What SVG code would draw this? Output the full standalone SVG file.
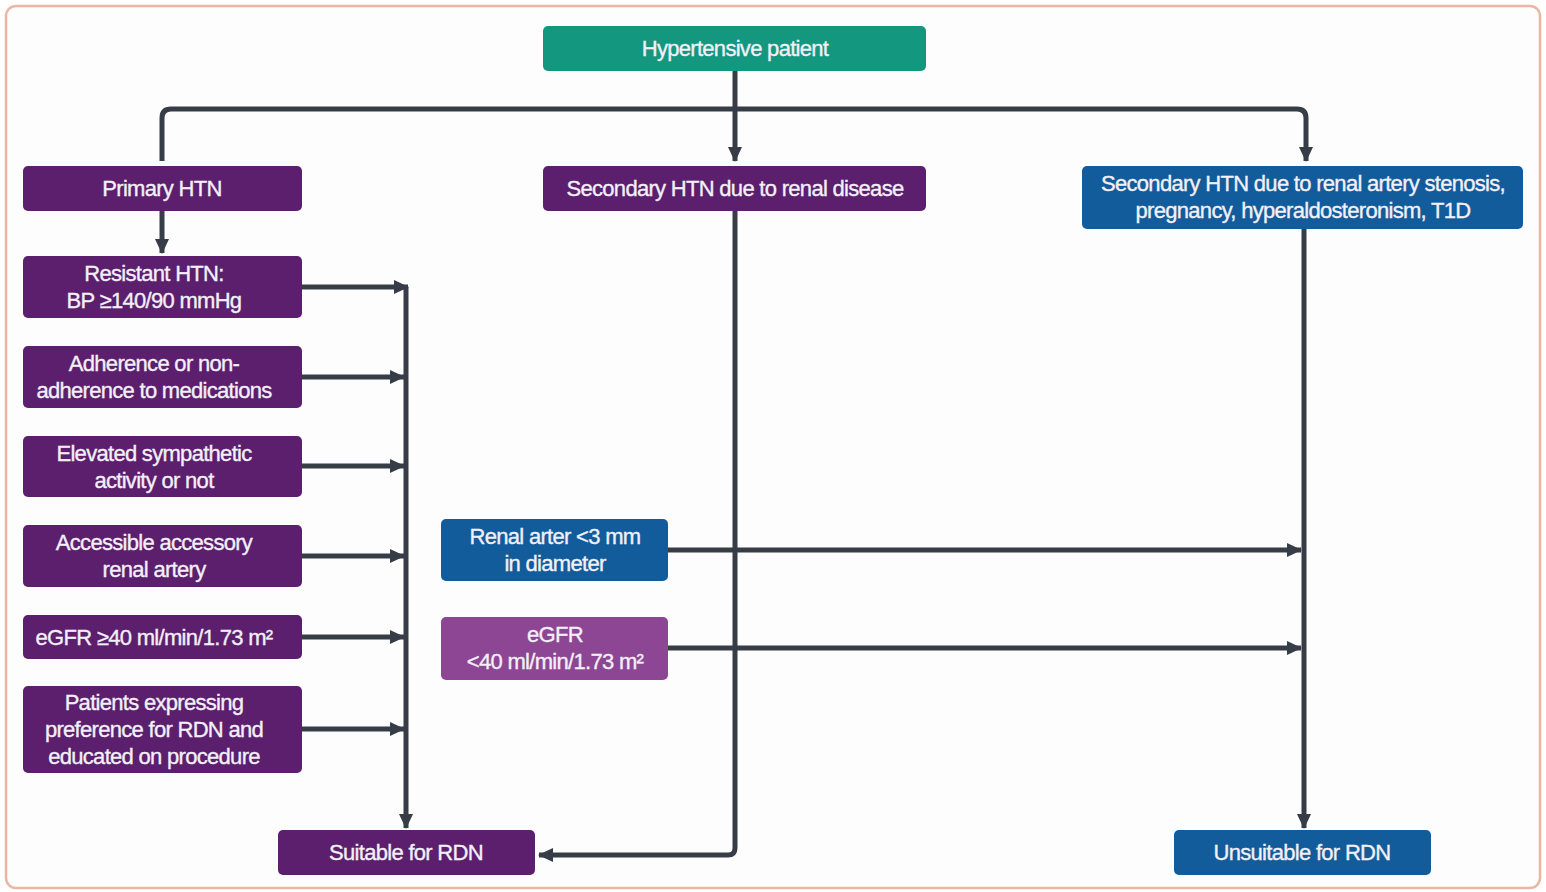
<svg xmlns="http://www.w3.org/2000/svg" width="1546" height="892" viewBox="0 0 1546 892">
<defs>
<marker id="ah" markerUnits="userSpaceOnUse" markerWidth="16" markerHeight="16" viewBox="0 0 16 16" refX="14" refY="8" orient="auto">
<path d="M0,1 L15,8 L0,15 Z" fill="#373d47"/>
</marker>
<style>
.n text{font-family:"Liberation Sans",Arial,sans-serif;font-size:22px;fill:#f3f0f7;stroke:#f3f0f7;stroke-width:0.35;text-anchor:middle;letter-spacing:-0.7px}
.p{fill:#5b1f6e}
.b{fill:#135c9b}
.t{fill:#13977f}
.l{fill:#8c4693}
.c path{fill:none;stroke:#373d47;stroke-width:5;stroke-linejoin:round}
</style>
</defs>
<rect x="0" y="0" width="1546" height="892" fill="#ffffff"/>
<rect x="6" y="6" width="1534" height="882" rx="10" fill="#fdfdfd" stroke="#ebb7a4" stroke-width="2.5"/>

<g class="c">
<path d="M735,71 V161" marker-end="url(#ah)"/>
<path d="M162,161 V118 Q162,109 171,109 H1297 Q1306,109 1306,118 V161" marker-end="url(#ah)"/>
<path d="M162,211 V253" marker-end="url(#ah)"/>
<path d="M302,287 H408" marker-end="url(#ah)"/>
<path d="M302,377 H404" marker-end="url(#ah)"/>
<path d="M302,466 H404" marker-end="url(#ah)"/>
<path d="M302,556 H404" marker-end="url(#ah)"/>
<path d="M302,637 H404" marker-end="url(#ah)"/>
<path d="M302,729 H404" marker-end="url(#ah)"/>
<path d="M406,287 V828" marker-end="url(#ah)"/>
<path d="M735,211 V848 Q735,855 728,855 H539" marker-end="url(#ah)"/>
<path d="M1304,229 V828" marker-end="url(#ah)"/>
<path d="M668,550 H1301" marker-end="url(#ah)"/>
<path d="M668,648 H1301" marker-end="url(#ah)"/>
</g>

<g id="hypertensive" class="n"><rect class="t" x="543" y="26" width="383" height="45" rx="5"/><text x="735" y="56">Hypertensive patient</text></g>
<g id="primary" class="n"><rect class="p" x="23" y="166" width="279" height="45" rx="5"/><text x="162" y="196">Primary HTN</text></g>
<g id="secondary-renal" class="n"><rect class="p" x="543" y="166" width="383" height="45" rx="5"/><text x="735" y="196">Secondary HTN due to renal disease</text></g>
<g id="secondary-other" class="n"><rect class="b" x="1082" y="166" width="441" height="63" rx="5"/><text x="1303" y="191">Secondary HTN due to renal artery stenosis,</text><text x="1303" y="218">pregnancy, hyperaldosteronism, T1D</text></g>
<g id="resistant" class="n"><rect class="p" x="23" y="256" width="279" height="62" rx="5"/><text x="154" y="281">Resistant HTN:</text><text x="154" y="308">BP ≥140/90 mmHg</text></g>
<g id="adherence" class="n"><rect class="p" x="23" y="346" width="279" height="62" rx="5"/><text x="154" y="371">Adherence or non-</text><text x="154" y="398">adherence to medications</text></g>
<g id="sympathetic" class="n"><rect class="p" x="23" y="436" width="279" height="61" rx="5"/><text x="154" y="461">Elevated sympathetic</text><text x="154" y="488">activity or not</text></g>
<g id="accessory" class="n"><rect class="p" x="23" y="525" width="279" height="62" rx="5"/><text x="154" y="550">Accessible accessory</text><text x="154" y="577">renal artery</text></g>
<g id="egfr-high" class="n"><rect class="p" x="23" y="615" width="279" height="44" rx="5"/><text x="154" y="645">eGFR ≥40 ml/min/1.73 m²</text></g>
<g id="preference" class="n"><rect class="p" x="23" y="686" width="279" height="87" rx="5"/><text x="154" y="710">Patients expressing</text><text x="154" y="737">preference for RDN and</text><text x="154" y="764">educated on procedure</text></g>
<g id="renal-artery" class="n"><rect class="b" x="441" y="519" width="227" height="62" rx="5"/><text x="555" y="544">Renal arter &lt;3 mm</text><text x="555" y="571">in diameter</text></g>
<g id="egfr-low" class="n"><rect class="l" x="441" y="617" width="227" height="63" rx="5"/><text x="555" y="642">eGFR</text><text x="555" y="669">&lt;40 ml/min/1.73 m²</text></g>
<g id="suitable" class="n"><rect class="p" x="278" y="830" width="257" height="45" rx="5"/><text x="406" y="860">Suitable for RDN</text></g>
<g id="unsuitable" class="n"><rect class="b" x="1174" y="830" width="257" height="45" rx="5"/><text x="1302" y="860">Unsuitable for RDN</text></g>
</svg>
